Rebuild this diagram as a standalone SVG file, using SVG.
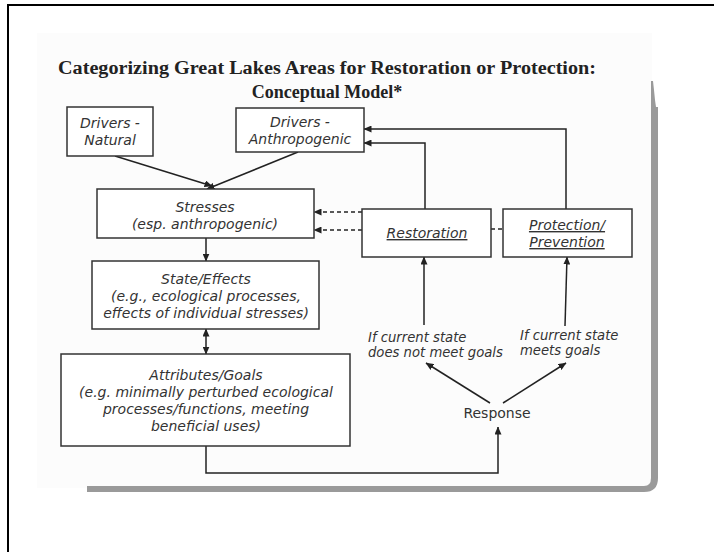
<svg xmlns="http://www.w3.org/2000/svg" width="714" height="552" viewBox="0 0 714 552">
<defs>
<marker id="ah" markerUnits="userSpaceOnUse" markerWidth="8" markerHeight="7" refX="7.5" refY="3.5" orient="auto-start-reverse">
<path d="M0,0 L8,3.5 L0,7 z" fill="#222"/>
</marker>
</defs>
<style>
.box{fill:#fff;stroke:#333;stroke-width:1.5}
.t{font-family:"DejaVu Sans",Verdana,sans-serif;font-size:14px;font-style:italic;fill:#333;text-anchor:middle}
.tl{font-family:"DejaVu Sans",Verdana,sans-serif;font-size:13.2px;font-style:italic;fill:#333}
.u{text-decoration:underline}
.ttl{font-family:"Liberation Serif","Times New Roman",serif;font-weight:bold;font-size:18px;fill:#222;text-anchor:middle}
.c{fill:none;stroke:#222;stroke-width:1.5}
.d{fill:none;stroke:#222;stroke-width:1.5;stroke-dasharray:4,3}
</style>
<rect x="0" y="0" width="714" height="552" fill="#fff"/>
<path d="M8,552 V5 H714" fill="none" stroke="#000" stroke-width="2"/>
<g id="slide">
<rect x="37" y="33" width="615" height="455" fill="#fcfcfc"/>
<path d="M651,81 L653,81 L654,90 L655,100 L656,107 L658,107 L658,478 Q658,492 644,492 L87,492 L87,486 L644,486 Q651,486 651,478 Z" fill="#9a9a9a"/>
</g>
<g id="title">
<text class="ttl" x="327" y="74" textLength="538" lengthAdjust="spacingAndGlyphs">Categorizing Great Lakes Areas for Restoration or Protection:</text>
<text class="ttl" x="327" y="98">Conceptual Model*</text>
</g>
<g id="connectors">
<path class="c" d="M115,156 L212,186" marker-end="url(#ah)"/>
<path class="c" d="M298,152 L207,189" marker-end="url(#ah)"/>
<path class="c" d="M206,238 V261" marker-end="url(#ah)"/>
<path class="c" d="M206,329 V354" marker-start="url(#ah)" marker-end="url(#ah)"/>
<path class="d" d="M362,212 H314" marker-end="url(#ah)"/>
<path class="d" d="M362,230 H314" marker-end="url(#ah)"/>
<path class="d" d="M491,229 H503"/>
<path class="c" d="M425,209 V143 H364" marker-end="url(#ah)"/>
<path class="c" d="M566,209 V129 H364" marker-end="url(#ah)"/>
<path class="c" d="M424,325 V257" marker-end="url(#ah)"/>
<path class="c" d="M565,326 L567,257" marker-end="url(#ah)"/>
<path class="c" d="M490,403 L426,363" marker-end="url(#ah)"/>
<path class="c" d="M503,403 L566,363" marker-end="url(#ah)"/>
<path class="c" d="M206,446 V473 H498 V427" marker-end="url(#ah)"/>
</g>
<g id="drivers-natural">
<rect class="box" x="67" y="107" width="86" height="49"/>
<text class="t" x="110" y="128">Drivers -</text>
<text class="t" x="110" y="145">Natural</text>
</g>
<g id="drivers-anthropogenic">
<rect class="box" x="236" y="108" width="128" height="44"/>
<text class="t" x="300" y="127">Drivers -</text>
<text class="t" x="300" y="144">Anthropogenic</text>
</g>
<g id="stresses">
<rect class="box" x="97" y="189" width="217" height="49"/>
<text class="t" x="205" y="212">Stresses</text>
<text class="t" x="205" y="229">(esp. anthropogenic)</text>
</g>
<g id="restoration">
<rect class="box" x="362" y="209" width="129" height="48"/>
<text class="t u" x="427" y="238">Restoration</text>
</g>
<g id="protection">
<rect class="box" x="503" y="209" width="129" height="48"/>
<text class="t u" x="567" y="230">Protection/</text>
<text class="t u" x="567" y="247">Prevention</text>
</g>
<g id="state-effects">
<rect class="box" x="92" y="261" width="227" height="68"/>
<text class="t" x="206" y="284">State/Effects</text>
<text class="t" x="206" y="301">(e.g., ecological processes,</text>
<text class="t" x="206" y="318">effects of individual stresses)</text>
</g>
<g id="attributes-goals">
<rect class="box" x="61" y="354" width="289" height="92"/>
<text class="t" x="206" y="380">Attributes/Goals</text>
<text class="t" x="206" y="397">(e.g. minimally perturbed ecological</text>
<text class="t" x="206" y="414">processes/functions, meeting</text>
<text class="t" x="206" y="431">beneficial uses)</text>
</g>
<g id="cond-not-meet">
<text class="tl" x="368" y="342">If current state</text>
<text class="tl" x="368" y="357">does not meet goals</text>
</g>
<g id="cond-meet">
<text class="tl" x="520" y="340">If current state</text>
<text class="tl" x="520" y="355">meets goals</text>
</g>
<g id="response">
<text x="497" y="418" font-family="'DejaVu Sans',Verdana,sans-serif" font-size="14" fill="#333" text-anchor="middle">Response</text>
</g>
</svg>
